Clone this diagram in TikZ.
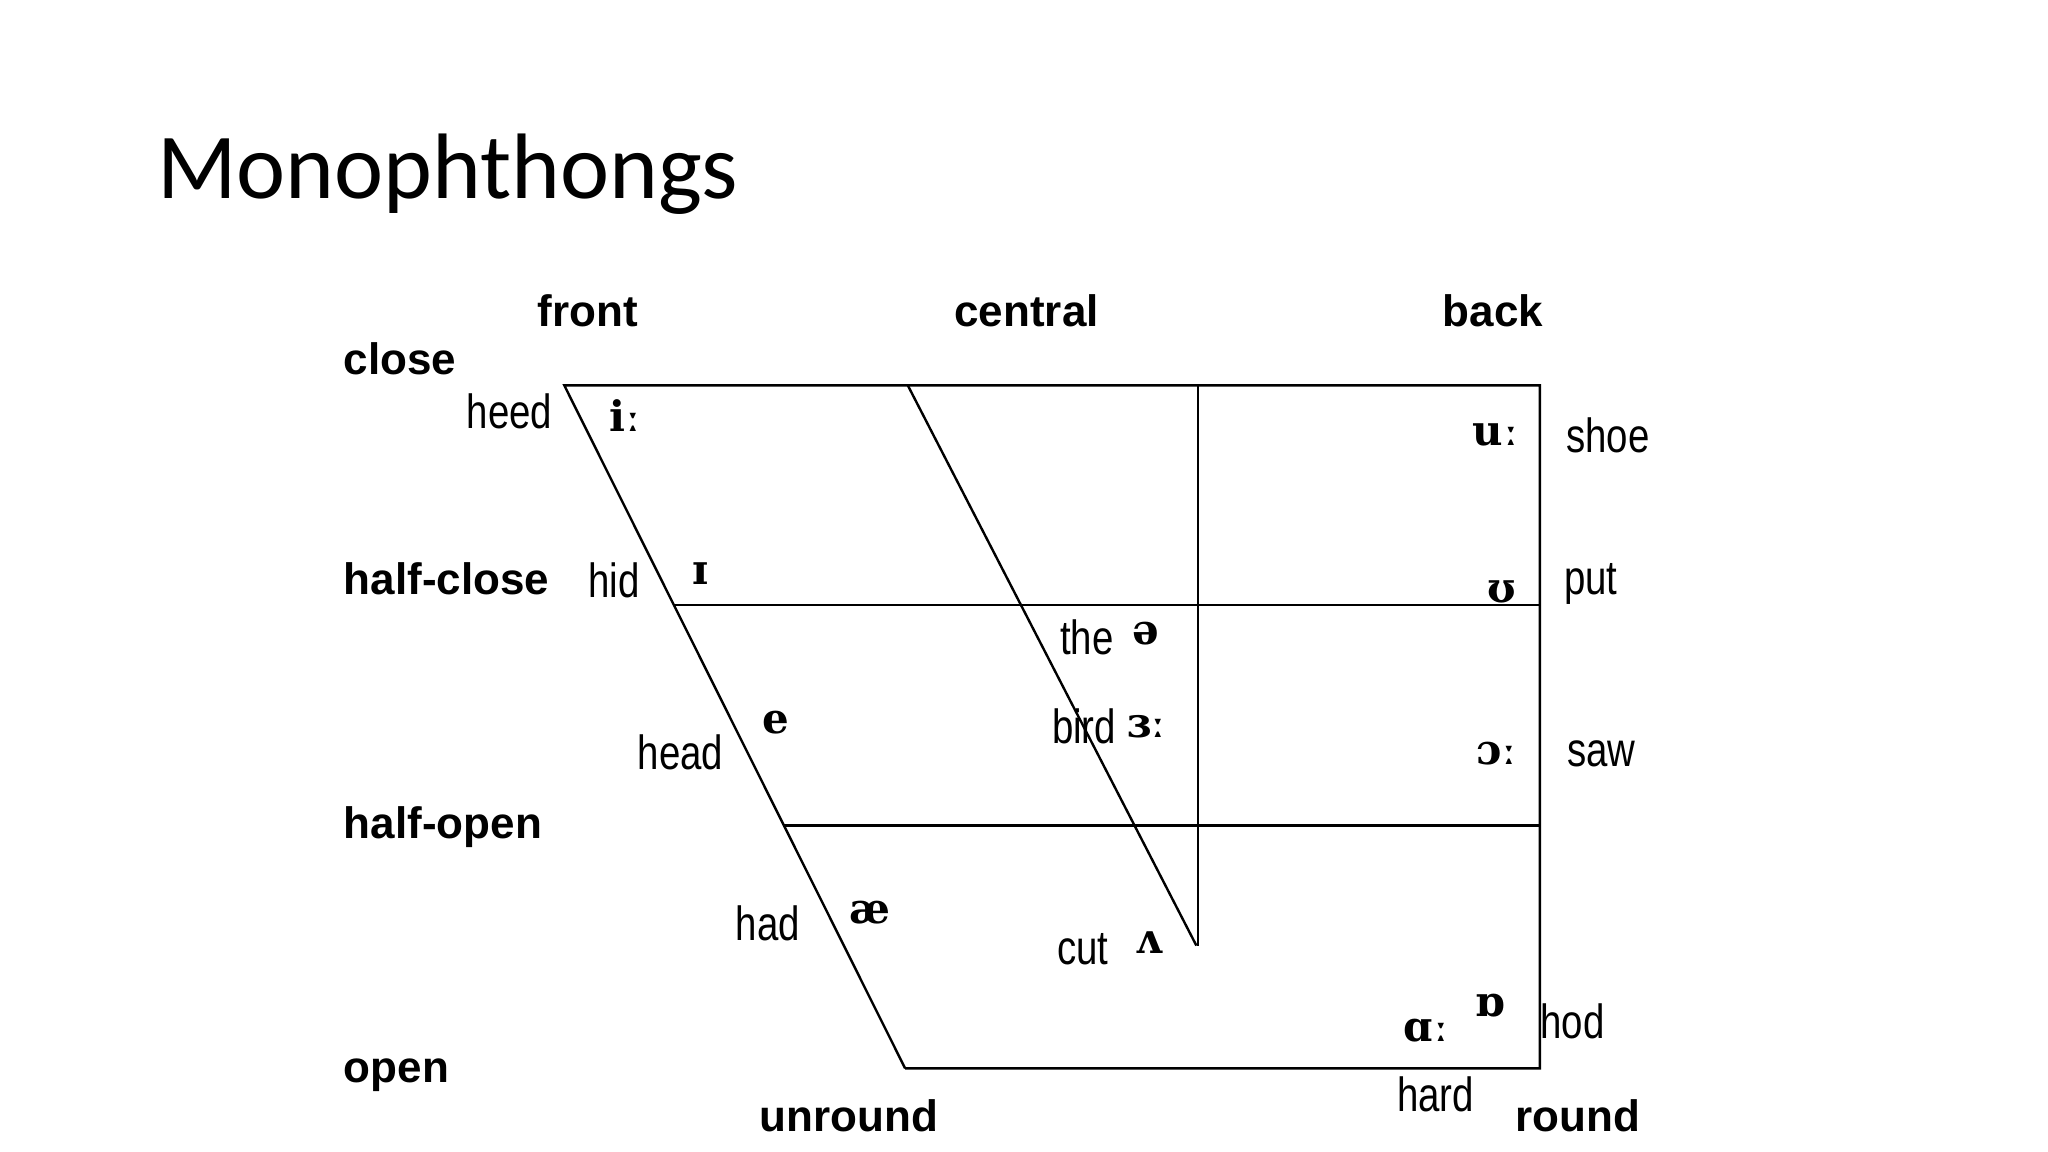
\documentclass[tikz,border=0pt]{standalone}
\usepackage{fontspec}
\setmainfont{Liberation Sans}
\newfontfamily\titlefont{Carlito}
\newfontfamily\wordfont[FakeStretch=0.8]{Liberation Sans}
\newfontfamily\ipafont{DejaVu Serif}
\usetikzlibrary{positioning}

\begin{document}
\begin{tikzpicture}[x=0.653pt,y=-0.653pt]
\tikzstyle{chart}=[line width=1.2pt,black]
\tikzstyle{level}=[anchor=base west,inner sep=0pt,font=\bfseries\fontsize{22}{26}\selectfont]
\tikzstyle{place}=[anchor=base,inner sep=0pt,font=\bfseries\fontsize{22}{26}\selectfont]
\tikzstyle{word}=[inner sep=0pt,font=\wordfont\fontsize{24}{28}\selectfont]
\tikzstyle{ipa}=[inner sep=0pt,font=\ipafont\bfseries\fontsize{21}{25}\selectfont]
\useasboundingbox (0,0) rectangle (1568,882);

\node[anchor=base west,inner sep=0pt,font=\titlefont\fontsize{46.5}{56}\selectfont] (title) at (120,152) {Monophthongs};

% corners of the chart
\coordinate (tl) at (432,295);
\coordinate (tr) at (1179,295);
\coordinate (br) at (1179,818);
\coordinate (bl) at (693,818);
\coordinate (ct) at (695,295);
\coordinate (cb) at (916,724);
\coordinate (vt) at (917,295);
\coordinate (vb) at (917,724);
\coordinate (hc1) at (516,463);
\coordinate (hc2) at (1179,463);
\coordinate (ho1) at (600,632);
\coordinate (ho2) at (1179,632);

\draw[chart] (bl) -- (tl) -- (tr) -- (br) -- (bl);
\draw[chart] (ct) -- (cb);
\draw[chart] (vt) -- (vb);
\draw[chart] (hc1) -- (hc2);
\draw[chart] (ho1) -- (ho2);

% labels round the chart
\node[place] (front) at (450,250) {front};
\node[place] (central) at (786,250) {central};
\node[place] (back) at (1143,250) {back};
\node[level] (close) at (263,287) {close};
\node[level] (halfclose) at (263,455) {half-close};
\node[level] (halfopen) at (263,642) {half-open};
\node[level] (open) at (263,829) {open};
\node[place] (unround) at (650,866) {unround};
\node[place] (round) at (1208,866) {round};

% vowels and words
\node[word] (heed) at (390,315) {heed};
\node[ipa] (ii) at (479,318) {iː};
\node[word] (hid) at (470,444) {hid};
\node[ipa] (ih) at (536,439) {ɪ};
\node[word] (head) at (521,576) {head};
\node[ipa] (eh) at (594,553) {e};
\node[word] (had) at (588,707) {had};
\node[ipa] (ae) at (666,699) {æ};
\node[word] (the) at (832,488) {the};
\node[ipa] (schwa) at (877,485) {ə};
\node[word] (bird) at (830,556) {bird};
\node[ipa] (er) at (878,556) {ɜː};
\node[word] (cut) at (829,727) {cut};
\node[ipa] (uh) at (880,722) {ʌ};
\node[word] (shoe) at (1231,333) {shoe};
\node[ipa] (uu) at (1145,333) {uː};
\node[word] (put) at (1218,447) {put};
\node[ipa] (uh2) at (1150,453) {ʊ};
\node[word] (saw) at (1226,577) {saw};
\node[ipa] (aw) at (1146,577) {ɔː};
\node[word] (hod) at (1204,782) {hod};
\node[ipa] (ot) at (1141,770) {ɒ};
\node[word] (hard) at (1099,838) {hard};
\node[ipa] (aa) at (1092,789) {ɑː};

\end{tikzpicture}
\end{document}
